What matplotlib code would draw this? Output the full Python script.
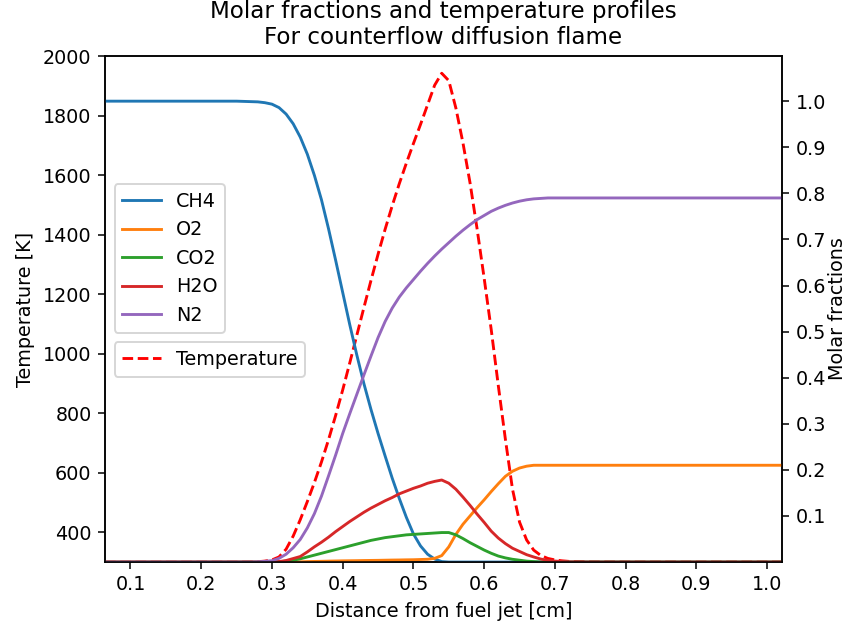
import matplotlib
matplotlib.use("Agg")
import matplotlib.pyplot as plt
from matplotlib.ticker import MultipleLocator

# Distance from the fuel jet [cm]
distance = [0.064, 0.10, 0.15, 0.20, 0.25, 0.27, 0.28, 0.29, 0.30, 0.31, 0.32,
            0.33, 0.34, 0.35, 0.36, 0.37, 0.38, 0.39, 0.40, 0.41, 0.42, 0.43,
            0.44, 0.45, 0.46, 0.47, 0.48, 0.49, 0.50, 0.51, 0.52, 0.53, 0.54,
            0.55, 0.56, 0.57, 0.58, 0.59, 0.60, 0.61, 0.62, 0.63, 0.64, 0.65,
            0.66, 0.67, 0.68, 0.69, 0.70, 0.71, 0.72, 0.75, 0.80, 0.85, 0.90,
            0.95, 1.00, 1.021]

# Gas temperature [K]
temperature = [300, 300, 300, 300, 300, 300.5, 301, 303, 307, 317, 343,
               387, 442, 503, 567, 636, 711, 792, 878, 969, 1062, 1155,
               1246, 1334, 1418, 1497, 1571, 1640, 1706, 1770, 1836, 1902, 1942,
               1917, 1825, 1708, 1574, 1419, 1253, 1080, 892, 712, 545, 434,
               374, 340, 322, 312, 307, 304, 302, 300.5, 300, 300, 300,
               300, 300, 300]

# Molar fractions of the main species
x_ch4 = [1.0, 1.0, 1.0, 1.0, 1.0, 0.999, 0.9985, 0.9967, 0.9935, 0.986, 0.972,
         0.951, 0.922, 0.885, 0.839, 0.786, 0.723, 0.655, 0.585, 0.515, 0.449, 0.387,
         0.331, 0.279, 0.230, 0.182, 0.138, 0.097, 0.061, 0.035, 0.017, 0.0065, 0.001,
         0.0, 0.0, 0.0, 0.0, 0.0, 0.0, 0.0, 0.0, 0.0, 0.0, 0.0,
         0.0, 0.0, 0.0, 0.0, 0.0, 0.0, 0.0, 0.0, 0.0, 0.0, 0.0,
         0.0, 0.0, 0.0]

x_o2 = [0.0, 0.0, 0.0, 0.0, 0.0, 0.0, 0.0, 0.0, 0.0, 0.0, 0.0,
        0.0, 0.0005, 0.001, 0.0013, 0.0016, 0.002, 0.0023, 0.0026, 0.0028, 0.003, 0.0033,
        0.0035, 0.0037, 0.004, 0.0043, 0.0045, 0.0048, 0.005, 0.0055, 0.006, 0.008, 0.014,
        0.033, 0.060, 0.082, 0.100, 0.118, 0.135, 0.153, 0.170, 0.186, 0.197, 0.204,
        0.208, 0.210, 0.210, 0.210, 0.210, 0.210, 0.210, 0.210, 0.210, 0.210, 0.210,
        0.210, 0.210, 0.210]

x_co2 = [0.0, 0.0, 0.0, 0.0, 0.0, 0.0, 0.0, 0.0, 0.0, 0.0005, 0.002,
         0.004, 0.007, 0.011, 0.015, 0.019, 0.023, 0.027, 0.031, 0.035, 0.039, 0.043,
         0.047, 0.050, 0.053, 0.055, 0.057, 0.059, 0.060, 0.061, 0.062, 0.063, 0.064,
         0.064, 0.059, 0.051, 0.042, 0.034, 0.026, 0.019, 0.013, 0.009, 0.006, 0.004,
         0.002, 0.001, 0.0, 0.0, 0.0, 0.0, 0.0, 0.0, 0.0, 0.0, 0.0,
         0.0, 0.0, 0.0]

x_h2o = [0.0, 0.0, 0.0, 0.0, 0.0, 0.0, 0.0, 0.0, 0.0004, 0.001, 0.0033,
         0.0076, 0.012, 0.022, 0.033, 0.043, 0.054, 0.066, 0.077, 0.088, 0.098, 0.108,
         0.117, 0.125, 0.133, 0.140, 0.148, 0.154, 0.160, 0.165, 0.171, 0.175, 0.178,
         0.171, 0.158, 0.141, 0.123, 0.104, 0.086, 0.067, 0.052, 0.040, 0.030, 0.023,
         0.016, 0.011, 0.0065, 0.0037, 0.0022, 0.001, 0.0004, 0.0, 0.0, 0.0, 0.0,
         0.0, 0.0, 0.0]

x_n2 = [0.0, 0.0, 0.0, 0.0, 0.0, 0.0, 0.0005, 0.0015, 0.003, 0.008, 0.017,
        0.031, 0.049, 0.074, 0.105, 0.143, 0.187, 0.232, 0.279, 0.322, 0.364, 0.406,
        0.447, 0.487, 0.522, 0.551, 0.575, 0.595, 0.613, 0.631, 0.648, 0.664, 0.679,
        0.693, 0.707, 0.720, 0.732, 0.743, 0.752, 0.761, 0.768, 0.774, 0.779, 0.783,
        0.786, 0.788, 0.789, 0.790, 0.790, 0.790, 0.790, 0.790, 0.790, 0.790, 0.790,
        0.790, 0.790, 0.790]

species = {"CH4": x_ch4, "O2": x_o2, "CO2": x_co2, "H2O": x_h2o, "N2": x_n2}

DPI = 138
fig = plt.figure(figsize=(847 / DPI, 625 / DPI), dpi=DPI)
fig.subplots_adjust(left=105 / 847, right=782 / 847,
                    bottom=1 - 562 / 625, top=1 - 56 / 625)
ax = fig.add_subplot(111)
ax2 = ax.twinx()

ax.plot(distance, temperature, "r--", label="Temperature")
for name, values in species.items():
    ax2.plot(distance, values, label=name)

ax.set_xlim(distance[0], distance[-1])
ax.set_ylim(300, 2000)
ax2.set_ylim(1e-4, 1.098)
ax.xaxis.set_major_locator(MultipleLocator(0.1))
ax2.yaxis.set_major_locator(MultipleLocator(0.1))

ax.set_xlabel("Distance from fuel jet [cm]")
ax.set_ylabel("Temperature [K]")
ax2.set_ylabel("Molar fractions", labelpad=1)
ax.set_title("Molar fractions and temperature profiles\nFor counterflow diffusion flame")

ax2.legend(loc="center left", bbox_to_anchor=(0.0, 0.6))
ax.legend(loc="center left", bbox_to_anchor=(0.0, 0.4))

fig.savefig("out.png", dpi=DPI)
